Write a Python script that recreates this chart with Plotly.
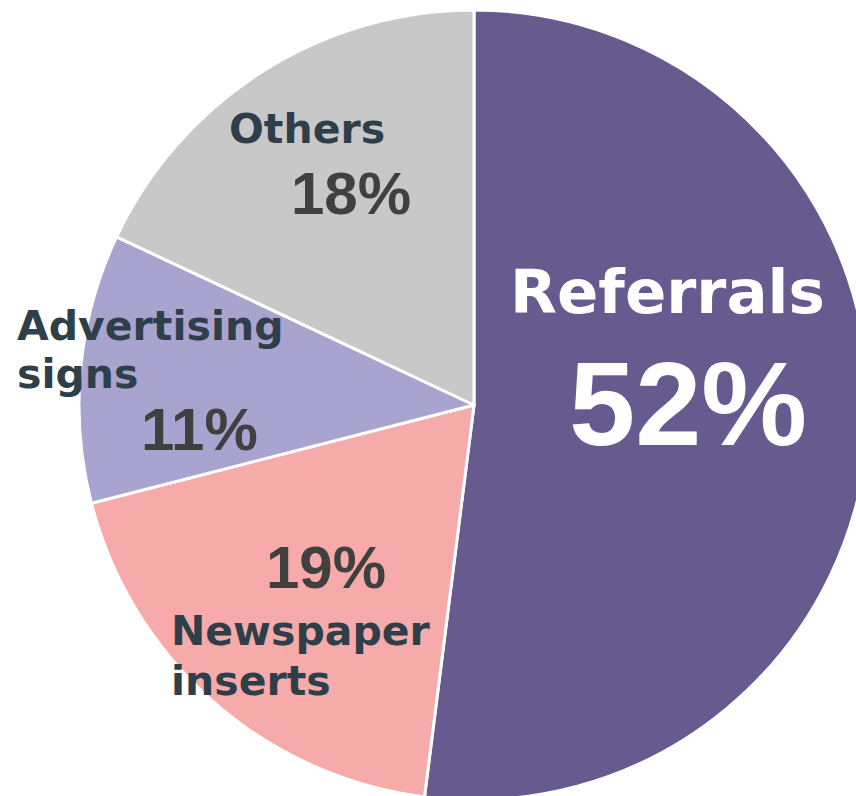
import plotly.graph_objects as go

# ---- data ----
labels = ["Referrals", "Newspaper inserts", "Advertising signs", "Others"]
values = [52, 19, 11, 18]

# ---- styles ----
colors = ["#665A8E", "#F7AAAA", "#A9A3D0", "#C8C8C8"]
W, H = 880, 810  # figure slightly larger than the window so the pie bleeds past the edges

fig = go.Figure(go.Pie(
    labels=labels,
    values=values,
    sort=False,
    direction="clockwise",
    rotation=0,
    textinfo="none",
    hoverinfo="label+percent",
    marker=dict(colors=colors, line=dict(color="white", width=3)),
    domain=dict(x=[79 / W, 869 / W], y=[10 / H, 800 / H]),
    showlegend=False,
))

LABEL_FONT = "DejaVu Sans"
PCT_FONT = "Liberation Sans, Arial, sans-serif"
LABEL_COLOR = "#2E3F4A"
PCT_COLOR = "#404040"

def px(x):
    return x / W

def py(y):
    return 1 - y / H

layout_spec = {
    "Referrals": dict(lines=[(667, 291)], anchor="center", lsize=61, lcolor="white",
                       pct=(688, 403), psize=119, pcolor="white"),
    "Newspaper inserts": dict(lines=[(169, 631), (169, 681)], anchor="left", lsize=41,
                               lcolor=LABEL_COLOR, pct=(326, 567), psize=60, pcolor=PCT_COLOR),
    "Advertising signs": dict(lines=[(15, 326), (15, 374)], anchor="left", lsize=41,
                               lcolor=LABEL_COLOR, pct=(199, 429), psize=60, pcolor=PCT_COLOR),
    "Others": dict(lines=[(307, 129)], anchor="center", lsize=41, lcolor=LABEL_COLOR,
                   pct=(351, 194), psize=60, pcolor=PCT_COLOR),
}

annotations = []
for lab, val in zip(labels, values):
    spec = layout_spec[lab]
    words = lab.split(" ") if len(spec["lines"]) > 1 else [lab]
    for word, (x, y) in zip(words, spec["lines"]):
        annotations.append(dict(
            text="<b>%s</b>" % word, x=px(x), y=py(y), xref="paper", yref="paper",
            xanchor=spec["anchor"], yanchor="middle", showarrow=False,
            font=dict(family=LABEL_FONT, size=spec["lsize"], color=spec["lcolor"]),
        ))
    x, y = spec["pct"]
    annotations.append(dict(
        text="<b>%d%%</b>" % val, x=px(x), y=py(y), xref="paper", yref="paper",
        xanchor="center", yanchor="middle", showarrow=False,
        font=dict(family=PCT_FONT, size=spec["psize"], color=spec["pcolor"]),
    ))

fig.update_layout(
    width=W, height=H,
    margin=dict(l=0, r=0, t=0, b=0),
    paper_bgcolor="white",
    plot_bgcolor="white",
    annotations=annotations,
)

fig.write_html(
    "out.html",
    config={"displayModeBar": False},
    post_script="document.body.style.margin='0';document.body.style.overflow='hidden';"
                "document.documentElement.style.overflow='hidden';",
)
